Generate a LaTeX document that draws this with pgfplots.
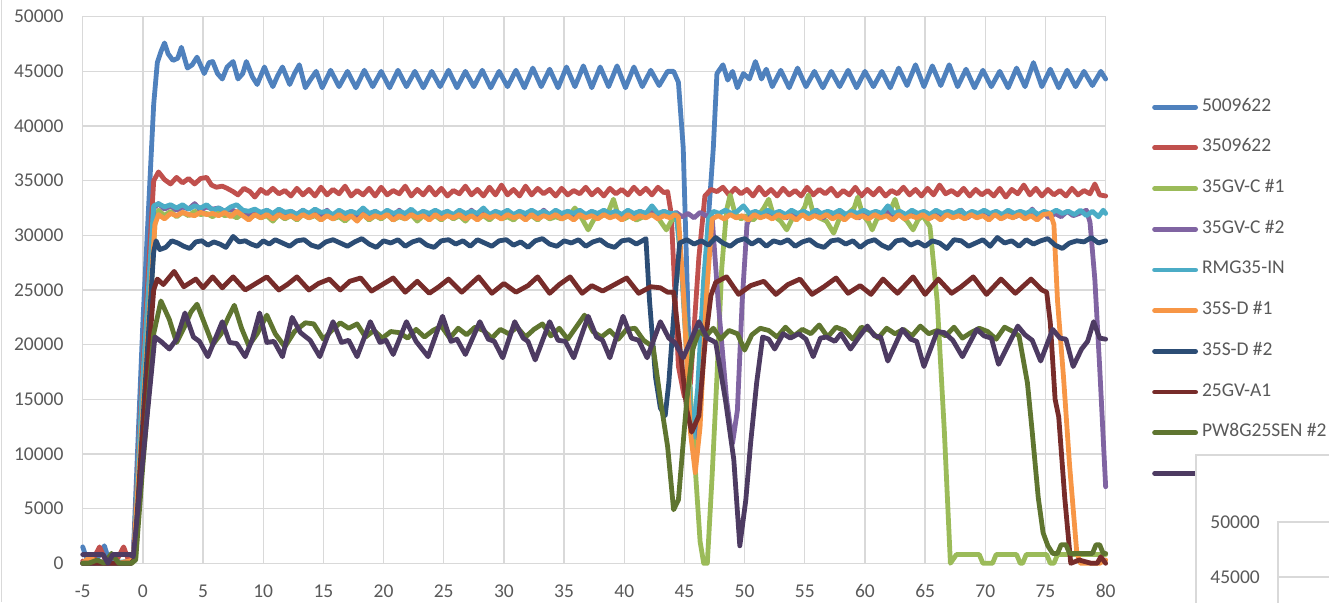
\documentclass[border=0pt]{standalone}
\usepackage{fontspec}
\setmainfont{Carlito}
\usepackage{pgfplots}
\pgfplotsset{compat=1.18}
\definecolor{c1}{HTML}{4F81BD}
\definecolor{c2}{HTML}{C0504D}
\definecolor{c3}{HTML}{9BBB59}
\definecolor{c4}{HTML}{8064A2}
\definecolor{c5}{HTML}{4BACC6}
\definecolor{c6}{HTML}{F79646}
\definecolor{c7}{HTML}{2C4D75}
\definecolor{c8}{HTML}{772C2A}
\definecolor{c9}{HTML}{5F7530}
\definecolor{c10}{HTML}{4D3B62}
\definecolor{gridc}{HTML}{D9D9D9}
\definecolor{textc}{HTML}{595959}
\begin{document}
\begin{tikzpicture}[x=1pt,y=1pt]
\path[use as bounding box] (0,0) rectangle (1329,602);
\draw[gridc, line width=1.3pt] (1.7,0) -- (1.7,602);
\begin{axis}[
  at={(82.7pt,38.7pt)}, anchor=south west,
  scale only axis, width=1023pt, height=546.6pt,
  xmin=-5, xmax=80, ymin=0, ymax=50000,
  xtick={-5,0,...,80}, ytick={0,5000,...,50000},
  grid=major, major grid style={draw=gridc, line width=1.3pt},
  axis line style={draw=gridc, line width=1.3pt},
  major tick length=0pt,
  scaled y ticks=false, scaled x ticks=false,
  /pgf/number format/1000 sep={},
  /pgf/number format/assume math mode=true,
  tick label style={font=\fontsize{19.5}{22}\selectfont, text=textc, inner sep=0pt},
  yticklabel style={xshift=-19pt},
  xticklabel style={yshift=-21pt},
  clip=false,
  every axis plot/.append style={line width=4.8pt, line join=round, line cap=round, mark=none},
  legend image code/.code={\draw[#1, line width=4.8pt, line cap=round] (2pt,0pt) -- (43pt,0pt);},
  legend style={draw=none, fill=none, at={(axis description cs:1.0453,0.8513)}, anchor=north west,
    inner sep=0pt, row sep=22.7pt, font=\fontsize{19.5}{22}\selectfont, text=textc,
    nodes={inner sep=0pt, text height=13pt, text depth=5pt},
    /tikz/every odd column/.append style={column sep=4pt}},
  legend cell align=left,
]
% 5009622
\addplot[c1] coordinates {(-5,1500) (-4.6,200) (-4.0,0) (-3.6,800) (-3.2,1600) (-2.8,200) (-2.2,0) (-1.6,0) (-1.2,300) (-0.8,700) (0,22000) (0.9,42000) (1.2,45800) (1.5,46800) (1.8,47600) (2.1,46600) (2.5,46000) (2.9,46200) (3.2,47200) (3.7,45300) (4.1,45600) (4.5,46300) (5.1,44800) (5.5,45800) (5.8,45900) (6.2,44800) (6.6,44300) (7.0,45400) (7.5,45900) (7.9,44300) (8.3,44800) (8.6,45900) (9.1,44500) (9.5,43800) (9.8,44600) (10.1,45400) (10.5,44300) (10.8,43600) (11.2,44600) (11.6,45400) (11.9,44600) (12.2,43800) (12.6,44800) (13.0,45600) (13.5,43500) (13.9,44200) (14.4,45000) (14.9,43500) (15.6,45100) (16.3,43600) (17.0,45000) (17.7,43500) (18.4,45100) (19.1,43600) (19.8,45000) (20.5,43500) (21.2,45100) (21.9,43600) (22.6,45000) (23.3,43500) (24.0,45000) (24.7,43600) (25.4,45100) (26.1,43500) (26.8,45000) (27.5,43600) (28.2,45100) (28.9,43500) (29.6,45000) (30.3,43600) (31.0,45100) (31.7,43500) (32.4,45300) (33.1,43600) (33.8,45200) (34.5,43500) (35.2,45400) (35.9,43600) (36.6,45500) (37.3,43500) (38.0,45400) (38.7,43600) (39.4,45500) (40.1,43500) (40.8,45400) (41.5,43600) (42.2,45100) (42.9,43700) (43.6,45000) (44.1,45000) (44.5,44000) (44.9,38000) (45.5,15000) (45.9,9500) (46.3,17000) (47.0,31700) (47.4,38000) (47.7,44800) (48.2,45600) (48.6,44200) (49.0,45000) (49.4,43500) (49.9,44800) (50.4,44300) (50.9,45900) (51.4,44300) (51.8,45200) (52.3,43600) (53.0,45100) (53.7,43500) (54.4,45300) (55.1,43600) (55.8,45000) (56.5,43500) (57.2,45000) (57.9,43600) (58.6,45100) (59.3,43500) (60.0,45000) (60.7,43600) (61.4,45000) (62.1,43500) (62.8,45300) (63.5,43700) (64.2,45600) (64.9,43600) (65.6,45500) (66.3,43700) (67.0,45600) (67.7,43600) (68.4,45200) (69.1,43500) (69.8,45100) (70.5,43600) (71.2,45000) (71.9,43500) (72.6,45300) (73.3,43600) (74.0,45800) (74.7,43600) (75.4,45200) (76.1,43500) (76.8,45100) (77.5,43600) (78.2,45000) (78.9,43700) (79.6,45000) (80.0,44300)};
\addlegendentry{5009622}
% 3509622
\addplot[c2] coordinates {(-5,200) (-4.3,0) (-3.6,1500) (-3.0,0) (-2.3,0) (-1.6,1500) (-1.1,0) (-0.8,300) (0,18000) (0.9,35000) (1.3,35800) (1.8,35100) (2.3,34700) (2.8,35300) (3.3,34800) (3.8,35200) (4.3,34700) (4.8,35200) (5.3,35300) (5.7,34600) (6.1,34400) (6.6,34500) (7.0,34300) (7.5,34000) (7.9,33700) (8.4,34300) (8.9,34000) (9.3,33500) (9.8,34200) (10.3,33800) (10.8,34300) (11.3,33800) (11.8,34100) (12.3,33600) (12.8,34300) (13.3,33700) (13.8,34200) (14.3,33600) (14.8,34400) (15.3,33700) (15.8,34200) (16.3,33800) (16.8,34500) (17.3,33600) (17.8,34100) (18.3,33700) (18.8,34300) (19.3,33600) (19.8,34400) (20.3,33700) (20.8,34100) (21.3,33800) (21.8,34500) (22.3,33600) (22.8,34200) (23.3,33700) (23.8,34400) (24.3,33700) (24.8,34300) (25.3,33600) (25.8,34100) (26.3,33800) (26.8,34500) (27.3,33700) (27.8,34200) (28.3,33600) (28.8,34400) (29.3,33700) (29.8,34600) (30.3,33700) (30.8,34200) (31.3,33600) (31.8,34500) (32.3,33700) (32.8,34300) (33.3,33800) (33.8,34200) (34.3,33600) (34.8,34300) (35.3,33700) (35.8,34100) (36.3,33800) (36.8,34400) (37.3,33700) (37.8,34200) (38.3,33600) (38.8,34300) (39.3,33800) (39.8,34200) (40.3,33700) (40.8,34400) (41.3,33800) (41.8,34300) (42.3,33700) (42.8,34400) (43.3,33900) (43.6,34000) (43.9,32000) (44.5,18000) (45.0,15200) (45.5,16500) (46.2,28000) (46.7,33600) (47.2,34200) (47.7,34000) (48.2,34400) (48.7,33700) (49.2,34300) (49.7,33800) (50.2,34200) (50.7,33600) (51.2,34400) (51.7,33700) (52.2,34200) (52.7,33600) (53.2,34300) (53.7,33700) (54.2,34100) (54.7,33600) (55.2,34400) (55.7,33700) (56.2,34200) (56.7,33800) (57.2,34300) (57.7,33600) (58.2,34100) (58.7,33700) (59.2,34400) (59.7,33600) (60.2,34200) (60.7,33700) (61.2,34300) (61.7,33600) (62.2,34100) (62.7,33800) (63.2,34400) (63.7,33700) (64.2,34200) (64.7,33600) (65.2,34300) (65.7,33700) (66.2,34600) (66.7,33800) (67.2,34100) (67.7,33700) (68.2,34300) (68.7,33600) (69.2,34200) (69.7,33700) (70.2,34100) (70.7,33600) (71.2,34300) (71.7,33500) (72.2,34200) (72.7,33800) (73.2,34600) (73.7,33700) (74.2,34300) (74.7,33600) (75.2,34200) (75.7,33700) (76.2,34100) (76.7,33600) (77.2,34300) (77.7,33700) (78.2,34100) (78.7,33800) (79.1,34700) (79.5,33700) (80.0,33600)};
\addlegendentry{3509622}
% 35GV-C #1
\addplot[c3] coordinates {(-5,0) (-4.2,200) (-3.5,0) (-2.6,300) (-1.8,0) (-0.9,0) (-0.6,400) (0,12000) (1.0,31000) (1.3,32300) (1.8,31800) (2.3,32200) (2.8,31700) (3.3,32100) (3.8,31800) (4.3,32200) (4.8,31900) (5.3,32000) (5.8,31700) (6.3,32100) (6.8,31800) (7.3,31900) (7.8,31600) (8.3,32000) (8.8,31500) (9.3,31900) (9.8,31600) (10.3,31800) (10.8,31300) (11.3,31900) (11.8,31500) (12.3,31800) (12.8,31400) (13.3,31900) (13.8,31600) (14.3,31800) (14.8,31400) (15.3,31900) (15.8,31500) (16.3,31700) (16.8,31300) (17.3,31800) (17.8,31500) (18.3,31900) (18.8,31400) (19.3,31800) (19.8,31500) (20.3,31900) (20.8,31400) (21.3,31700) (21.8,31500) (22.3,31900) (22.8,31300) (23.3,31800) (23.8,31500) (24.3,31800) (24.8,31400) (25.3,31900) (25.8,31500) (26.3,31800) (26.8,31300) (27.3,31900) (27.8,31500) (28.3,31800) (28.8,31400) (29.3,31900) (29.8,31500) (30.3,31700) (30.8,31400) (31.3,31900) (31.8,31500) (32.3,31800) (32.8,31400) (33.3,31900) (33.8,31500) (34.3,31700) (34.8,31500) (35.4,31800) (35.9,32500) (36.4,31700) (37.0,30500) (37.5,31500) (38.2,31800) (38.7,32200) (39.1,33300) (39.5,31800) (40.0,31500) (40.5,31800) (41.0,31400) (41.6,31700) (42.3,32400) (42.8,31600) (43.5,30500) (44.0,31500) (44.4,31400) (44.9,25000) (45.7,12000) (46.3,2000) (46.6,0) (46.9,0) (47.3,8000) (47.7,17000) (48.1,27000) (48.5,32300) (48.8,33700) (49.2,32000) (49.7,31500) (50.2,31800) (50.7,31400) (51.2,31900) (51.6,32500) (52.0,33300) (52.4,31800) (53.0,31300) (53.5,30500) (54.0,31600) (54.6,31900) (55.0,32600) (55.3,33700) (55.7,32000) (56.2,31600) (56.8,31300) (57.4,30200) (57.9,31600) (58.5,31900) (59.1,32500) (59.4,33500) (59.8,31900) (60.3,31200) (60.6,30500) (61.0,31500) (61.6,31800) (62.2,32500) (62.5,33300) (62.9,31900) (63.5,31300) (64.0,30500) (64.4,31400) (64.8,31800) (65.1,31300) (65.4,30800) (66.0,24000) (66.6,12000) (67.1,0) (67.6,800) (69.5,800) (69.8,0) (70.6,0) (70.9,800) (72.6,800) (72.9,0) (73.1,0) (73.4,800) (75.1,800) (75.4,0) (75.7,0) (76.0,800) (80,800)};
\addlegendentry{35GV-C \#1}
% 35GV-C #2
\addplot[c4] coordinates {(-5,0) (-4,0) (-3,200) (-2,0) (-0.8,200) (0,16000) (0.9,32500) (1.3,32900) (1.8,32400) (2.3,32700) (2.8,32300) (3.3,32600) (3.8,32400) (4.3,32900) (4.8,32300) (5.3,32600) (5.8,32400) (6.3,32500) (6.8,32200) (7.3,32400) (7.8,32100) (8.3,32300) (8.8,31900) (9.3,32200) (9.8,31800) (10.3,32300) (10.8,31900) (11.3,32100) (11.8,31600) (12.3,32200) (12.8,31900) (13.3,32300) (13.8,31700) (14.3,32100) (14.8,31800) (15.3,32300) (15.8,31600) (16.3,32100) (16.8,31700) (17.3,32200) (17.8,31800) (18.3,32000) (18.8,31600) (19.3,32200) (19.8,31800) (20.3,32100) (20.8,31700) (21.3,32300) (21.8,31800) (22.3,32000) (22.8,31600) (23.3,32200) (23.8,31700) (24.3,32100) (24.8,31800) (25.3,32200) (25.8,31600) (26.3,32000) (26.8,31700) (27.3,32300) (27.8,31800) (28.3,32100) (28.8,31600) (29.3,32200) (29.8,31700) (30.3,32100) (30.8,31800) (31.3,32200) (31.8,31600) (32.3,32000) (32.8,31700) (33.3,32300) (33.8,31800) (34.3,32100) (34.8,31600) (35.3,32200) (35.8,31700) (36.3,32000) (36.8,31800) (37.3,32200) (37.8,31600) (38.3,32100) (38.8,31700) (39.3,32200) (39.8,31800) (40.3,32000) (40.8,31600) (41.3,32200) (41.8,31700) (42.3,32100) (42.8,31800) (43.3,32200) (43.8,31700) (44.3,32100) (44.8,31700) (45.3,32000) (45.8,31600) (46.3,32100) (46.8,31800) (47.3,31700) (47.8,24000) (48.5,15000) (49.0,11000) (49.4,14000) (49.8,24000) (50.2,31000) (50.5,31800) (51.0,32100) (51.5,31700) (52.0,32200) (52.5,31800) (53.0,32000) (53.5,31600) (54.0,32200) (54.5,31700) (55.0,32100) (55.5,31800) (56.0,32300) (56.5,31600) (57.0,32000) (57.5,31700) (58.0,32200) (58.5,31800) (59.0,32100) (59.5,31600) (60.0,32200) (60.5,31700) (61.0,32000) (61.5,31800) (62.0,32200) (62.5,31600) (63.0,32100) (63.5,31700) (64.0,32200) (64.5,31800) (65.0,32000) (65.5,31600) (66.0,32200) (66.5,31700) (67.0,32100) (67.5,31800) (68.0,32300) (68.5,31600) (69.0,32000) (69.5,31700) (70.0,32200) (70.5,31800) (71.0,32100) (71.5,31600) (72.0,32200) (72.5,31700) (73.0,32000) (73.5,31800) (73.9,32400) (74.3,31700) (74.8,32100) (75.3,31600) (75.8,32000) (76.3,31700) (76.8,32200) (77.3,31800) (77.8,32000) (78.4,32300) (78.7,31200) (79.1,26000) (79.5,18000) (80.0,7000)};
\addlegendentry{35GV-C \#2}
% RMG35-IN
\addplot[c5] coordinates {(-5,0) (-4,100) (-3,0) (-2,100) (-0.8,200) (0,17000) (0.9,32700) (1.3,32900) (1.8,32600) (2.3,32800) (2.8,32500) (3.3,32800) (3.8,32400) (4.3,32700) (4.8,32500) (5.3,32800) (5.8,32300) (6.3,32500) (6.8,32200) (7.3,32600) (7.8,32800) (8.3,32300) (8.8,32200) (9.3,32400) (9.8,32100) (10.3,32300) (10.8,32000) (11.3,32400) (11.8,32100) (12.3,32200) (12.8,31900) (13.3,32300) (13.8,32000) (14.3,32400) (14.8,32100) (15.3,32200) (15.8,31900) (16.3,32300) (16.8,32000) (17.3,32200) (17.8,32000) (18.3,32500) (18.8,32000) (19.3,32200) (19.8,31900) (20.3,32300) (20.8,32000) (21.3,32200) (21.8,32000) (22.3,32400) (22.8,31900) (23.3,32200) (23.8,32000) (24.3,32300) (24.8,32000) (25.3,32200) (25.8,31900) (26.3,32300) (26.8,32000) (27.3,32200) (27.8,32000) (28.3,32500) (28.8,31900) (29.3,32200) (29.8,32000) (30.3,32300) (30.8,31900) (31.3,32200) (31.8,32000) (32.3,32300) (32.8,32000) (33.3,32200) (33.8,31900) (34.3,32300) (34.8,32000) (35.3,32200) (35.8,32000) (36.3,32300) (36.8,31900) (37.3,32200) (37.8,32000) (38.3,32300) (38.8,32000) (39.3,32200) (39.8,31900) (40.3,32300) (40.8,32000) (41.3,32200) (41.8,32000) (42.3,32700) (42.8,32000) (43.3,32200) (43.8,32000) (44.3,32000) (44.7,28000) (45.3,17000) (45.7,11500) (46.1,16000) (46.6,26000) (47.0,31500) (47.4,32200) (47.9,32000) (48.4,32300) (48.9,32000) (49.4,32200) (49.9,32700) (50.4,32000) (50.9,32200) (51.4,31900) (51.9,32300) (52.4,32000) (52.9,32200) (53.4,31900) (53.9,32300) (54.4,32000) (54.9,32200) (55.4,31900) (55.9,32300) (56.4,32000) (56.9,32200) (57.4,32000) (57.9,32300) (58.4,31900) (58.9,32200) (59.4,32000) (59.9,32300) (60.4,32000) (60.9,32200) (61.4,32000) (61.9,32700) (62.4,32000) (62.9,32200) (63.4,31900) (63.9,32300) (64.4,32000) (64.9,32200) (65.4,31900) (65.9,32300) (66.4,32000) (66.9,32200) (67.4,32000) (67.9,32300) (68.4,31900) (68.9,32200) (69.4,32000) (69.9,32300) (70.4,32000) (70.9,32200) (71.4,31900) (71.9,32300) (72.4,32000) (72.9,32200) (73.4,32000) (73.9,32300) (74.4,31900) (74.9,32200) (75.4,32000) (75.9,32300) (76.4,32000) (76.9,32200) (77.4,31900) (77.9,32300) (78.4,31800) (78.9,32200) (79.4,31700) (79.8,32300) (80.0,32000)};
\addlegendentry{RMG35-IN}
% 35S-D #1
\addplot[c6] coordinates {(-5,0) (-4.4,600) (-3.8,0) (-2,0) (-0.8,300) (0,14000) (1.0,31000) (1.3,31900) (1.8,31500) (2.3,32000) (2.8,31800) (3.3,32100) (3.8,31900) (4.3,31800) (4.8,32100) (5.3,31900) (5.8,32000) (6.3,31800) (6.8,32100) (7.3,31700) (7.8,32200) (8.3,31800) (8.8,31400) (9.3,31900) (9.8,31600) (10.3,31900) (10.8,31500) (11.3,31900) (11.8,31600) (12.3,31800) (12.8,31500) (13.3,31900) (13.8,31600) (14.3,31900) (14.8,31400) (15.3,31800) (15.8,31500) (16.3,31900) (16.8,31500) (17.3,31800) (17.8,31300) (18.3,31900) (18.8,31500) (19.3,31800) (19.8,31600) (20.3,31900) (20.8,31400) (21.3,31800) (21.8,31500) (22.3,31900) (22.8,31600) (23.3,31800) (23.8,31400) (24.3,31900) (24.8,31500) (25.3,31800) (25.8,31600) (26.3,31900) (26.8,31500) (27.3,31800) (27.8,31400) (28.3,31900) (28.8,31600) (29.3,31800) (29.8,31500) (30.3,31900) (30.8,31600) (31.3,31800) (31.8,31400) (32.3,31900) (32.8,31500) (33.3,31800) (33.8,31600) (34.3,31900) (34.8,31500) (35.3,31800) (35.8,31400) (36.3,31900) (36.8,31600) (37.3,31800) (37.8,31500) (38.3,31900) (38.8,31600) (39.3,31800) (39.8,31400) (40.3,31900) (40.8,31500) (41.3,31800) (41.8,31600) (42.3,31900) (42.8,31500) (43.3,31800) (43.8,31600) (44.2,31900) (44.5,31700) (44.9,25000) (45.5,12000) (45.9,8300) (46.3,12500) (46.8,24000) (47.3,31500) (47.8,31800) (48.3,31500) (48.8,31900) (49.3,31600) (49.8,31800) (50.3,31400) (50.8,31900) (51.3,31600) (51.8,31800) (52.3,31500) (52.8,31900) (53.3,31600) (53.8,31800) (54.3,31400) (54.8,31900) (55.3,31500) (55.8,31800) (56.3,31600) (56.8,31900) (57.3,31500) (57.8,31800) (58.3,31400) (58.8,31900) (59.3,31600) (59.8,31800) (60.3,31500) (60.8,31900) (61.3,31600) (61.8,31800) (62.3,31400) (62.8,31900) (63.3,31500) (63.8,31800) (64.3,31600) (64.8,31900) (65.3,31500) (65.8,31800) (66.3,31400) (66.8,31900) (67.3,31600) (67.8,31800) (68.3,31500) (68.8,31900) (69.3,31600) (69.8,31800) (70.3,31400) (70.8,31900) (71.3,31500) (71.8,31800) (72.3,31600) (72.8,31900) (73.3,31500) (73.8,31800) (74.3,31400) (74.8,31900) (75.4,32000) (75.7,31000) (76.0,24000) (76.5,17000) (77.0,9000) (77.6,1000) (77.9,0) (79.5,0) (80,300)};
\addlegendentry{35S-D \#1}
% 35S-D #2
\addplot[c7] coordinates {(-5,0) (-3,0) (-1,0) (-0.7,300) (0,13000) (0.9,28500) (1.1,29500) (1.4,28700) (1.9,28900) (2.4,29500) (2.9,29300) (3.4,29000) (3.9,28800) (4.4,29400) (4.9,29500) (5.4,29100) (5.9,29400) (6.4,29200) (6.9,28900) (7.5,29900) (8.0,29400) (8.5,29500) (9.0,29200) (9.5,29000) (10.0,29500) (10.5,29200) (11.0,29600) (11.6,29300) (12.2,29000) (12.8,29500) (13.4,29600) (14.0,29100) (14.6,28900) (15.2,29400) (15.8,29600) (16.4,29300) (17.0,29000) (17.6,29400) (18.2,29700) (18.8,29200) (19.4,28900) (20.0,29500) (20.6,29300) (21.2,29600) (21.8,29000) (22.4,29400) (23.0,29600) (23.6,29100) (24.2,28900) (24.8,29500) (25.4,29600) (26.0,29200) (26.6,29500) (27.2,29000) (27.8,29600) (28.4,29300) (29.0,29000) (29.6,29500) (30.2,29600) (30.8,29100) (31.4,29400) (32.0,28900) (32.6,29500) (33.2,29700) (33.8,29200) (34.4,29000) (35.0,29500) (35.6,29300) (36.2,29600) (36.8,29000) (37.4,29400) (38.0,29600) (38.6,29100) (39.2,28900) (39.8,29500) (40.4,29600) (41.0,29200) (41.5,29500) (41.8,29700) (42.1,24000) (42.6,17000) (43.0,14200) (43.4,13500) (43.7,16500) (44.2,24000) (44.6,29300) (45.2,29600) (45.8,29200) (46.4,29500) (47.0,29100) (47.6,29800) (48.2,29300) (48.8,29000) (49.4,29500) (50.0,29700) (50.6,29200) (51.2,29600) (51.8,29000) (52.4,29500) (53.0,29300) (53.6,29600) (54.2,29000) (54.8,29400) (55.4,29600) (56.0,29100) (56.6,28900) (57.2,29500) (57.8,29600) (58.4,29200) (59.0,29500) (59.6,28900) (60.2,29400) (60.8,29600) (61.4,29100) (62.0,28800) (62.6,29500) (63.2,29600) (63.8,29100) (64.4,29400) (65.0,29000) (65.6,29500) (66.2,29300) (66.8,28800) (67.4,29600) (68.0,29500) (68.6,29000) (69.2,29300) (69.8,29600) (70.4,29000) (71.0,29800) (71.6,29300) (72.2,29500) (72.8,29000) (73.4,29600) (74.0,29200) (74.6,29500) (75.2,29700) (75.8,29100) (76.4,28800) (77.0,29300) (77.6,29500) (78.2,29400) (78.8,29800) (79.4,29300) (80.0,29500)};
\addlegendentry{35S-D \#2}
% 25GV-A1
\addplot[c8] coordinates {(-5,0) (-3,0) (-1,0) (-0.7,300) (0,12000) (0.9,25000) (1.2,26000) (1.7,25500) (2.6,26700) (3.4,25300) (4.4,26000) (5.0,25200) (5.8,26200) (6.6,25200) (7.5,26200) (8.5,25000) (9.4,25600) (10.3,26200) (11.3,25000) (12.0,25500) (12.8,26200) (13.8,25000) (14.6,25600) (15.5,26000) (16.4,25000) (17.2,25800) (18.1,26100) (19.0,24900) (19.9,25500) (20.8,26100) (21.8,24800) (22.8,25800) (23.8,24700) (24.6,25300) (25.4,26000) (26.5,24800) (27.9,26200) (29.0,24700) (30.0,25600) (31.0,24800) (32.0,25400) (32.8,26200) (33.8,24700) (34.6,25500) (35.5,26200) (36.5,24700) (37.3,25400) (38.2,24900) (39.2,25500) (40.2,26100) (41.2,24700) (42.2,25300) (43.0,25200) (43.6,24800) (44.1,24800) (44.6,20000) (45.2,14000) (45.6,12000) (46.2,13500) (46.7,20000) (47.2,24500) (47.6,25700) (48.5,26200) (49.5,24600) (50.5,25400) (51.6,25800) (52.6,24600) (53.6,25500) (54.6,26000) (55.6,24600) (56.6,25300) (57.6,26100) (58.6,24700) (59.6,25400) (60.5,24600) (61.5,26000) (62.7,24700) (64.0,26200) (65.0,24600) (66.1,26000) (67.2,24700) (68.0,25300) (69.0,26200) (70.1,24600) (71.3,26000) (72.5,24700) (73.8,26000) (74.7,25000) (75.1,24800) (75.4,22000) (75.8,15000) (76.1,13400) (76.6,6000) (77.1,0) (77.8,300) (78.8,0) (79.3,0) (79.6,600) (80,0)};
\addlegendentry{25GV-A1}
% PW8G25SEN #2
\addplot[c9] coordinates {(-5,0) (-4.5,0) (-3.8,300) (-3.2,0) (-2.6,900) (-2.0,0) (-1.0,0) (-0.6,300) (0,9000) (0.9,21000) (1.5,24000) (2.2,22300) (2.8,20200) (3.4,21500) (4.0,23000) (4.5,23700) (5.1,22000) (5.8,20000) (6.5,21000) (7.1,22500) (7.6,23600) (8.2,21500) (8.8,19900) (9.5,21000) (10.3,22700) (11.0,21000) (11.8,19800) (12.6,21200) (13.5,22000) (14.2,21900) (15.0,20500) (15.7,21300) (16.4,22000) (17.1,21500) (17.8,21900) (18.5,20700) (19.2,21300) (19.9,20600) (20.6,21200) (21.3,21100) (22.0,20600) (22.7,21400) (23.4,20700) (24.1,21300) (24.8,21700) (25.5,20600) (26.2,21500) (26.9,20900) (27.6,21600) (28.3,21300) (29.0,20600) (29.7,21400) (30.4,21000) (31.1,21600) (31.8,20700) (32.5,21400) (33.2,21900) (33.9,20800) (34.6,21500) (35.3,20500) (36.0,21600) (36.7,22700) (37.4,21200) (38.1,20700) (38.8,21300) (39.5,20500) (40.2,21400) (40.9,21500) (41.6,20400) (42.4,19800) (43.0,15000) (43.6,10700) (44.1,4900) (44.5,5800) (45.2,15000) (45.7,19600) (46.2,21200) (46.8,20800) (47.4,21500) (48.0,20500) (48.7,21300) (49.4,21000) (50.0,19500) (50.6,20900) (51.3,21500) (52.0,21300) (52.7,20700) (53.4,21600) (54.1,20800) (54.8,21400) (55.5,21000) (56.2,21800) (56.9,20700) (57.6,21600) (58.3,21300) (59.0,20500) (59.7,21600) (60.4,21300) (61.1,20600) (61.8,21500) (62.5,21000) (63.2,21400) (63.9,20800) (64.6,21700) (65.3,21000) (66.0,21300) (66.7,20800) (67.4,21600) (68.1,20600) (68.8,21100) (69.5,21500) (70.2,21200) (70.9,20500) (71.6,21600) (72.3,21200) (72.8,20800) (73.5,16500) (73.9,12000) (74.4,6000) (74.8,2800) (75.2,1600) (75.6,900) (76.0,900) (76.3,1700) (76.7,1700) (77.0,900) (78.9,900) (79.2,1700) (79.5,1700) (79.8,900) (80,900)};
\addlegendentry{PW8G25SEN \#2}
% tenth series
\addplot[c10] coordinates {(-5,800) (-4,800) (-3.3,800) (-2.9,0) (-2.5,800) (-1.0,800) (-0.8,600) (0,9500) (1.0,20700) (1.5,20300) (2.2,19600) (2.8,20500) (3.5,22900) (4.2,20700) (4.7,20300) (5.4,18900) (6.0,20500) (6.6,22100) (7.2,20200) (7.8,20100) (8.5,18900) (9.1,20500) (9.7,22900) (10.3,20200) (10.9,20300) (11.6,18900) (12.4,22500) (13.1,21100) (13.9,20400) (14.7,18900) (15.8,22100) (16.5,20200) (17.1,20400) (17.8,18900) (18.9,22100) (19.7,20200) (20.2,20400) (20.8,19100) (21.9,22100) (22.7,20300) (23.7,18900) (24.9,22600) (25.6,20300) (26.1,20500) (26.8,19100) (28.0,22100) (28.7,20500) (29.2,20300) (29.9,18800) (30.9,22100) (31.6,20600) (32.0,20300) (32.6,18600) (33.8,22100) (34.5,20400) (35.1,20300) (35.8,18800) (37.0,22600) (37.7,20700) (38.2,20400) (38.8,18800) (39.9,22600) (40.6,20600) (41.2,20400) (41.9,18800) (43.0,22100) (43.7,20600) (44.2,20200) (44.9,18800) (46.2,22100) (46.9,20600) (47.6,20200) (48.4,15000) (49.1,9500) (49.6,1600) (50.1,5800) (50.5,11000) (51.0,16500) (51.5,20700) (52.0,20500) (52.5,19600) (53.2,21000) (53.8,20600) (54.5,21000) (55.1,20500) (55.7,18900) (56.3,20600) (56.8,20700) (57.5,20300) (58.0,21000) (58.8,19600) (59.5,20700) (60.2,21700) (60.8,20800) (61.3,20700) (61.9,18500) (63.1,21400) (63.8,20500) (64.3,20300) (64.9,18000) (66.0,21200) (66.6,21100) (67.3,20400) (68.1,18900) (69.3,21400) (69.9,20800) (70.5,20600) (71.1,18200) (72.7,21700) (73.3,20900) (73.9,20400) (74.6,18500) (75.6,21400) (76.2,20600) (76.7,20500) (77.3,18000) (78.0,19600) (78.5,20300) (79.0,22100) (79.5,20600) (80.0,20500)};
\addlegendentry{}
\end{axis}
% inset chart frame (second chart overlapping)
\fill[white] (1196,-10) rectangle (1340,147);
\draw[gridc, line width=1.3pt] (1196,-10) -- (1196,147) -- (1340,147);
\begin{axis}[
  at={(1278pt,80pt)}, anchor=north west,
  scale only axis, width=200pt, height=110pt,
  xmin=0, xmax=1, ymin=40000, ymax=50000,
  xtick=\empty, ytick={45000,50000},
  ymajorgrids, major grid style={draw=gridc, line width=1.3pt},
  axis line style={draw=gridc, line width=1.3pt},
  major tick length=0pt,
  scaled y ticks=false,
  /pgf/number format/1000 sep={},
  /pgf/number format/assume math mode=true,
  tick label style={font=\fontsize{19.5}{22}\selectfont, text=textc, inner sep=0pt},
  yticklabel style={xshift=-18pt},
]
\end{axis}
\end{tikzpicture}
\end{document}
